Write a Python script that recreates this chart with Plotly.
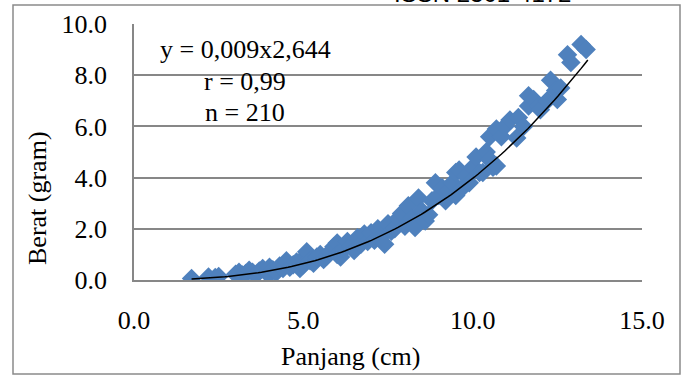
import plotly.graph_objects as go
import numpy as np

# Data (Panjang cm, Berat gram)
panjang = [1.7, 2.2, 2.4, 2.5,
           3.0, 3.1, 3.2, 3.3, 3.4, 3.5, 3.6, 3.7, 3.8, 3.9, 4.0, 4.0, 4.1, 4.2, 4.3, 4.4,
           4.5, 4.6, 4.7, 4.8, 4.9, 5.0, 5.0, 5.1, 5.2, 5.3, 5.4, 5.5, 5.6, 5.7, 5.8, 5.9,
           6.0, 6.0, 6.1, 6.2, 6.3, 6.4, 6.5, 6.6, 6.7, 6.8, 6.9, 7.0, 7.1, 7.2, 7.3, 7.4,
           7.5, 7.6, 7.7, 7.8, 7.9, 8.0, 8.1, 8.2, 8.3, 8.4, 8.5, 8.6, 8.7, 8.8, 8.9, 9.0,
           9.1, 9.2, 9.3, 9.4, 9.5, 9.5, 9.6, 9.7, 9.8, 9.9, 10.0, 10.1, 10.2, 10.3, 10.4,
           10.5, 10.5, 10.6, 10.7, 10.7, 10.85, 10.95, 11.1, 11.3, 11.35, 11.5, 11.65, 11.65,
           11.8, 11.95, 12.0, 12.2, 12.3, 12.45, 12.5, 12.6, 12.8, 12.9, 13.2, 13.35]
berat = [0.06, 0.12, 0.10, 0.14,
         0.22, 0.30, 0.20, 0.25, 0.38, 0.30, 0.20, 0.35, 0.45, 0.30, 0.22, 0.50, 0.40, 0.30, 0.55, 0.45,
         0.75, 0.50, 0.60, 0.70, 0.45, 0.85, 0.60, 1.10, 0.75, 0.65, 0.90, 1.00, 0.80, 0.95, 1.10, 1.30,
         1.45, 1.00, 0.90, 1.20, 1.50, 1.30, 1.15, 1.65, 1.40, 1.80, 1.50, 1.85, 1.55, 2.00, 1.70, 1.40,
         2.20, 1.90, 2.00, 2.40, 2.60, 2.10, 2.90, 2.40, 2.05, 3.20, 2.70, 2.30, 2.55, 3.10, 3.80, 3.30,
         3.60, 3.10, 3.50, 3.80, 4.20, 3.30, 4.30, 3.60, 4.05, 3.80, 4.40, 4.80, 4.20, 4.20, 5.00,
         5.60, 4.70, 4.40, 5.90, 4.45, 5.60, 6.00, 6.25, 5.55, 6.35, 6.00, 7.20, 6.80,
         7.05, 6.80, 6.65, 7.00, 7.80, 7.40, 7.05, 7.50, 8.80, 8.50, 9.20, 9.00]

# Power trendline coefficients shown on the chart: y = a * x^b
coef_a = 0.009
coef_b = 2.644
trend_x = np.linspace(1.7, 13.4, 120)
trend_y = coef_a * trend_x ** coef_b

x_ticks = [0, 5, 10, 15]
x_tick_text = ["0.0", "5.0", "10.0", "15.0"]
y_ticks = [0, 2, 4, 6, 8, 10]
y_tick_text = ["0.0", "2.0", "4.0", "6.0", "8.0", "10.0"]

W, H = 688, 376
L, R, T, B = 134, 46, 24, 96
PW, PH = W - L - R, H - T - B


def px(xp):
    return (xp - L) / PW


def py(yp):
    return (H - B - yp) / PH


SERIF = "Liberation Serif, Times New Roman, serif"
GRID = "#878787"
FS = 26

fig = go.Figure()
fig.add_trace(go.Scatter(
    x=panjang, y=berat, mode="markers",
    marker=dict(symbol="diamond", size=15, color="#4F81BD", line=dict(width=0)),
    showlegend=False, hoverinfo="skip"))
fig.add_trace(go.Scatter(
    x=trend_x, y=trend_y, mode="lines",
    line=dict(color="black", width=1.5),
    showlegend=False, hoverinfo="skip"))

fig.update_layout(
    template="none",
    width=W, height=H,
    margin=dict(l=L, r=R, t=T, b=B, autoexpand=False),
    paper_bgcolor="white", plot_bgcolor="white",
    font=dict(family=SERIF, size=FS, color="black"),
    xaxis=dict(range=[0, 15], tickvals=x_ticks, ticktext=x_tick_text, automargin=False,
               showgrid=False, zeroline=False, showline=True, linecolor=GRID, linewidth=1.5,
               ticks="outside", ticklen=16, tickcolor="rgba(0,0,0,0)",
               tickfont=dict(family=SERIF, size=FS)),
    yaxis=dict(range=[0, 10], tickvals=y_ticks, ticktext=y_tick_text, automargin=False,
               showgrid=True, gridcolor=GRID, gridwidth=1.5, zeroline=False,
               showline=True, linecolor=GRID, linewidth=1.5,
               ticks="outside", ticklen=20, tickcolor="rgba(0,0,0,0)",
               tickfont=dict(family=SERIF, size=FS)),
    shapes=[dict(type="rect", xref="paper", yref="paper",
                 x0=px(13), x1=px(680), y0=py(374), y1=py(5),
                 line=dict(color="#8a8a8a", width=1.5))],
    annotations=[
        dict(text="y = 0,009x2,644", xref="paper", yref="paper", x=px(245), y=py(49),
             xanchor="center", yanchor="middle", showarrow=False),
        dict(text="r = 0,99", xref="paper", yref="paper", x=px(245), y=py(81),
             xanchor="center", yanchor="middle", showarrow=False),
        dict(text="n = 210", xref="paper", yref="paper", x=px(245), y=py(112),
             xanchor="center", yanchor="middle", showarrow=False),
        dict(text="Berat (gram)", xref="paper", yref="paper", x=px(37), y=py(198),
             xanchor="center", yanchor="middle", textangle=-90, showarrow=False),
        dict(text="Panjang (cm)", xref="paper", yref="paper", x=px(350), y=py(356),
             xanchor="center", yanchor="middle", showarrow=False),
        dict(text="ISSN 2301-4172", xref="paper", yref="paper", x=px(482), y=py(9),
             xanchor="center", yanchor="bottom", showarrow=False,
             font=dict(family="Liberation Sans, Arial, sans-serif", size=24)),
    ],
)

fig.write_html("out.html", config={"displayModeBar": False},
               post_script="document.body.style.margin='0px';")
